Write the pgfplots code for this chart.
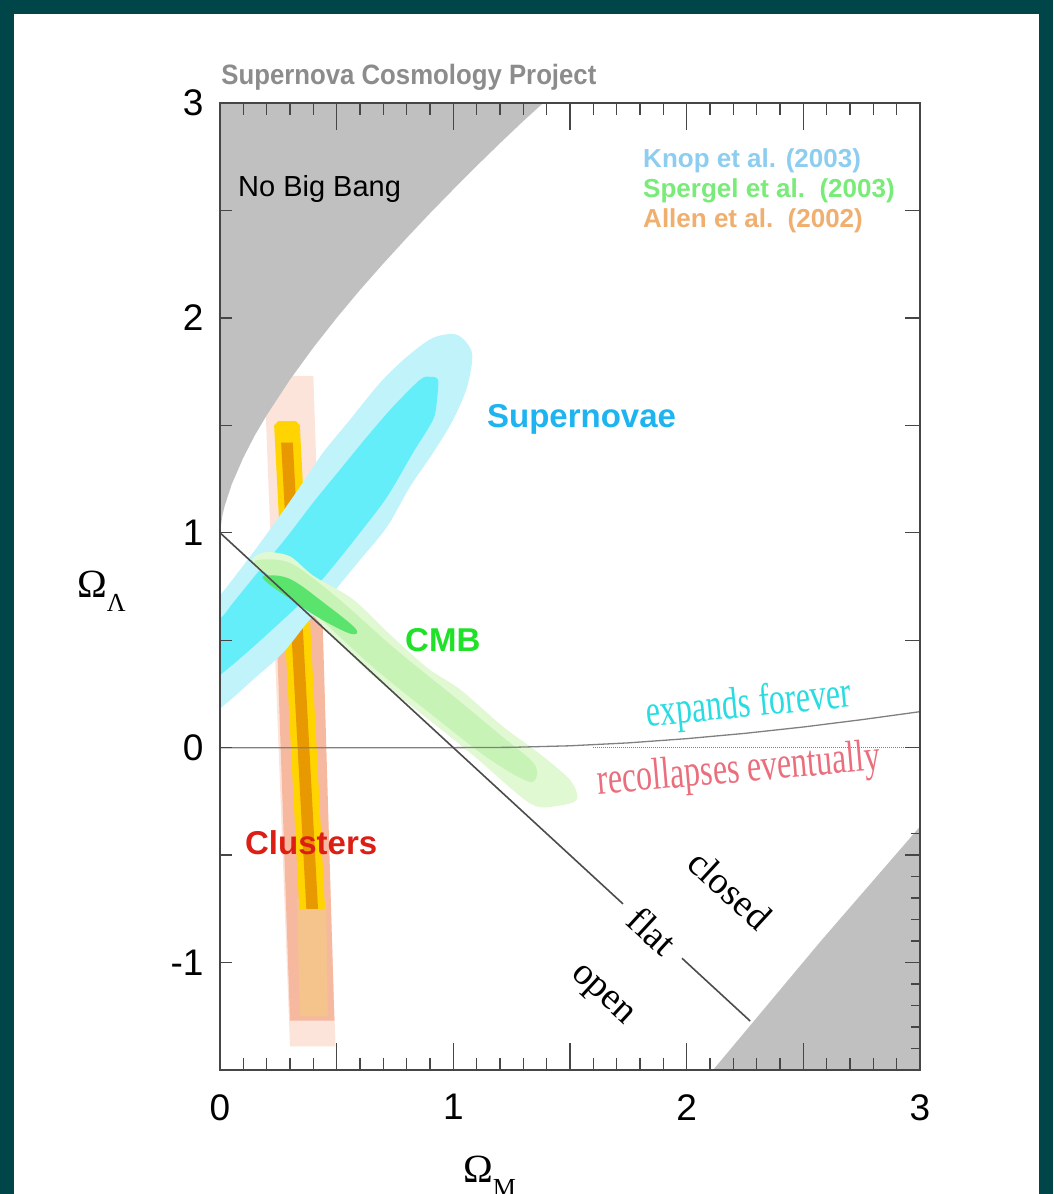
\documentclass[border=0pt]{standalone}
\usepackage{pgfplots}
\pgfplotsset{compat=1.18}
\usepackage{fontspec}
\setmainfont{Liberation Serif}
\newfontfamily\hv{Liberation Sans}
\definecolor{teal0}{RGB}{0,70,72}
\definecolor{nbb}{RGB}{192,192,192}
\definecolor{snout}{RGB}{192,244,250}
\definecolor{snin}{RGB}{100,238,250}
\definecolor{cmbout}{RGB}{224,249,210}
\definecolor{cmbmid}{RGB}{200,243,182}
\definecolor{cmbin}{RGB}{90,228,110}
\definecolor{clpale}{RGB}{252,228,218}
\definecolor{clsal}{RGB}{247,184,160}
\definecolor{clyel}{RGB}{255,212,0}
\definecolor{clorg}{RGB}{232,152,0}
\definecolor{clpaleorg}{RGB}{245,196,140}
\definecolor{axgray}{RGB}{70,70,70}
\begin{document}
\begin{tikzpicture}[x=1pt,y=1pt]
\fill[teal0] (0,0) rectangle (1053,1194);
\fill[white] (14,0) rectangle (1039,1180);
\useasboundingbox (0,0) rectangle (1053,1194);
\begin{axis}[
  at={(220pt,124pt)}, anchor=south west,
  scale only axis, width=700pt, height=967pt,
  xmin=0, xmax=3, ymin=-1.5, ymax=3,
  clip mode=individual,
  axis on top=true,
  axis line style={axgray, line width=2pt},
  tick align=inside,
  xtick={0,0.5,1,1.5,2,2.5,3},
  xticklabels={0,,1,,2,,3},
  minor x tick num=4,
  xtick pos=both,
  ytick={-1,-0.5,0,0.5,1,1.5,2,2.5,3},
  yticklabels={-1,,0,,1,,2,,3},
  ytick pos=left,
  xtick style={/pgfplots/major tick length=27pt,/pgfplots/minor tick length=12pt, line width=1.4pt, axgray},
  ytick style={/pgfplots/major tick length=12pt, line width=1.4pt, axgray},
  ticklabel style={font=\hv\fontsize{37}{40}\selectfont},
  xticklabel style={yshift=-21pt},
  yticklabel style={xshift=-13pt},
]
% clusters
\addplot[fill=clpale, draw=none] coordinates {(0.19,1.73) (0.40,1.73) (0.495,-1.39) (0.30,-1.39)} -- cycle;
\addplot[fill=clsal, draw=none] coordinates {(0.23,0.95) (0.43,0.95) (0.49,-1.27) (0.30,-1.27)} -- cycle;
\addplot[fill=clpaleorg, draw=none] coordinates {(0.33,-0.70) (0.455,-0.70) (0.462,-1.25) (0.342,-1.25)} -- cycle;
\addplot[fill=clyel, draw=none] coordinates {(0.232,1.50) (0.25,1.52) (0.325,1.52) (0.342,1.50) (0.45,-0.75) (0.34,-0.75)} -- cycle;
\addplot[fill=clorg, draw=none] coordinates {(0.262,1.42) (0.312,1.42) (0.42,-0.75) (0.37,-0.75)} -- cycle;
% gray regions
\addplot[fill=nbb, draw=none] coordinates {
 (0,1.0) (0.01,1.08) (0.02,1.125) (0.05,1.225) (0.1,1.35) (0.15,1.455) (0.2,1.547)
 (0.3,1.713) (0.4,1.862) (0.5,2.0) (0.6,2.13) (0.7,2.253) (0.8,2.372) (0.9,2.487)
 (1.0,2.598) (1.1,2.707) (1.2,2.813) (1.3,2.916) (1.385,3.0) (0,3.0)} -- cycle;
\addplot[fill=nbb, draw=none] coordinates {(2.113,-1.5) (2.575,-0.90) (3,-0.367) (3,-1.5)} -- cycle;
% supernovae
\addplot[fill=snout, draw=none, smooth cycle, tension=0.5] coordinates {
 (1.016,1.921) (1.080,1.837) (1.059,1.679) (0.999,1.526) (0.913,1.372) (0.814,1.214)
 (0.716,1.028) (0.600,0.874) (0.484,0.721) (0.373,0.581) (0.270,0.442) (0.141,0.316)
 (0.030,0.209) (-0.086,0.121) (-0.171,0.223) (-0.129,0.549) (0.009,0.721) (0.141,0.907)
 (0.244,1.060) (0.343,1.214) (0.441,1.372) (0.557,1.526) (0.686,1.698) (0.801,1.819)
 (0.913,1.907)};
\addplot[fill=snin, draw=none, smooth cycle, tension=0.5] coordinates {
 (0.900,1.726) (0.934,1.712) (0.930,1.619) (0.913,1.526) (0.827,1.372) (0.716,1.167)
 (0.600,1.000) (0.484,0.842) (0.373,0.702) (0.270,0.595) (0.129,0.456) (0.013,0.349)
 (-0.086,0.270) (-0.129,0.409) (-0.064,0.549) (0.009,0.609) (0.056,0.674) (0.171,0.828)
 (0.287,0.981) (0.399,1.140) (0.514,1.293) (0.630,1.447) (0.741,1.586) (0.857,1.712)};
% CMB
\addplot[fill=cmbout, draw=none, smooth cycle, tension=0.5] coordinates {
 (0.14,0.88) (0.2,0.91) (0.3,0.89) (0.4,0.80) (0.57,0.69) (0.72,0.535) (0.89,0.37)
 (1.03,0.27) (1.21,0.10) (1.36,-0.02) (1.5,-0.15) (1.53,-0.24) (1.45,-0.27) (1.33,-0.26)
 (1.09,-0.04) (0.86,0.16) (0.64,0.35) (0.43,0.58) (0.26,0.78) (0.16,0.83)};
\addplot[fill=cmbmid, draw=none, smooth cycle, tension=0.5] coordinates {
 (0.15,0.87) (0.3,0.86) (0.5,0.70) (0.75,0.46) (1.0,0.24) (1.2,0.06) (1.35,-0.08)
 (1.33,-0.16) (1.15,-0.05) (0.9,0.16) (0.65,0.38) (0.4,0.63) (0.2,0.81)};
\addplot[fill=cmbin, draw=none, smooth cycle, tension=0.6] coordinates {
 (0.19,0.80) (0.3,0.785) (0.45,0.67) (0.58,0.555) (0.56,0.53) (0.43,0.60) (0.29,0.70) (0.2,0.77)};
% lines
\addplot[gray, line width=1.3pt] coordinates {
 (0,0) (1,0) (1.25,0.0015) (1.5,0.0087) (1.75,0.0223) (2,0.0419) (2.25,0.0666)
 (2.5,0.0962) (2.75,0.1302) (3,0.1675)};
\addplot[gray, line width=1pt, densely dotted] coordinates {(1.6,0) (3,0)};
\addplot[black!70, line width=1.6pt] coordinates {(0,1) (1.727,-0.727)};
\addplot[black!70, line width=1.6pt] coordinates {(1.98,-0.98) (2.272,-1.272)};
% texts
\node[anchor=base west, inner sep=0, text=black!45] at (axis cs:0.005,3.084)
  {\hv\bfseries\fontsize{28}{30}\selectfont\scalebox{0.92}[1]{Supernova Cosmology Project}};
\node[anchor=base west, inner sep=0] at (axis cs:0.077,2.563)
  {\hv\fontsize{29}{31}\selectfont No Big Bang};
\node[anchor=base west, inner sep=0, text={rgb,255:red,140;green,205;blue,240}] at (axis cs:1.813,2.698)
  {\hv\bfseries\fontsize{26}{28}\selectfont Knop et al. (2003)};
\node[anchor=base west, inner sep=0, text={rgb,255:red,120;green,235;blue,120}] at (axis cs:1.813,2.558)
  {\hv\bfseries\fontsize{26}{28}\selectfont Spergel et al.\ \ (2003)};
\node[anchor=base west, inner sep=0, text={rgb,255:red,240;green,175;blue,110}] at (axis cs:1.813,2.419)
  {\hv\bfseries\fontsize{26}{28}\selectfont Allen et al.\ \ (2002)};
\node[anchor=base west, inner sep=0, text={rgb,255:red,30;green,180;blue,240}] at (axis cs:1.144,1.488)
  {\hv\bfseries\fontsize{33}{35}\selectfont Supernovae};
\node[anchor=base west, inner sep=0, text={rgb,255:red,30;green,225;blue,40}] at (axis cs:0.793,0.447)
  {\hv\bfseries\fontsize{33}{35}\selectfont CMB};
\node[anchor=base west, inner sep=0, text={rgb,255:red,220;green,30;blue,20}] at (axis cs:0.107,-0.498)
  {\hv\bfseries\fontsize{33}{35}\selectfont Clusters};
\node[anchor=base, inner sep=0, rotate=5.5, text={rgb,255:red,40;green,220;blue,225}] at (axis cs:2.271,0.144)
  {\scalebox{1}[1.4]{\fontsize{32}{34}\selectfont expands forever}};
\node[anchor=base, inner sep=0, rotate=5, text={rgb,255:red,235;green,110;blue,125}] at (axis cs:2.229,-0.16)
  {\scalebox{1}[1.4]{\fontsize{32}{34}\selectfont recollapses eventually}};
\node[inner sep=0, rotate=-42.65] at (axis cs:1.853,-0.853) {\fontsize{38}{40}\selectfont flat};
\node[inner sep=0, rotate=-42.65] at (axis cs:2.186,-0.66) {\fontsize{38}{40}\selectfont closed};
\node[inner sep=0, rotate=-42.65] at (axis cs:1.633,-1.158) {\fontsize{38}{40}\selectfont open};
\node[anchor=base west, inner sep=0] at (axis cs:-0.613,0.698)
  {\fontsize{40}{42}\selectfont Ω\raisebox{-14pt}{\fontsize{26}{28}\selectfont Λ}};
\node[anchor=base west, inner sep=0] at (axis cs:1.041,-2.023)
  {\fontsize{40}{42}\selectfont Ω\raisebox{-14pt}{\fontsize{26}{28}\selectfont M}};
\end{axis}
\begin{axis}[
  at={(220pt,124pt)}, anchor=south west,
  scale only axis, width=700pt, height=967pt,
  xmin=0, xmax=3, ymin=-1.5, ymax=3,
  hide x axis,
  axis line style={draw=none},
  tick align=inside,
  ytick pos=right,
  ytick={-1,-0.5,0,0.5,1,1.5,2,2.5,3},
  yticklabels={},
  minor ytick={-1.4,-1.3,-1.2,-1.1,-0.9,-0.8,-0.7,-0.6,-0.4},
  ytick style={/pgfplots/major tick length=15pt,/pgfplots/minor tick length=9pt, line width=1.4pt, axgray},
]
\end{axis}
\end{tikzpicture}
\end{document}
